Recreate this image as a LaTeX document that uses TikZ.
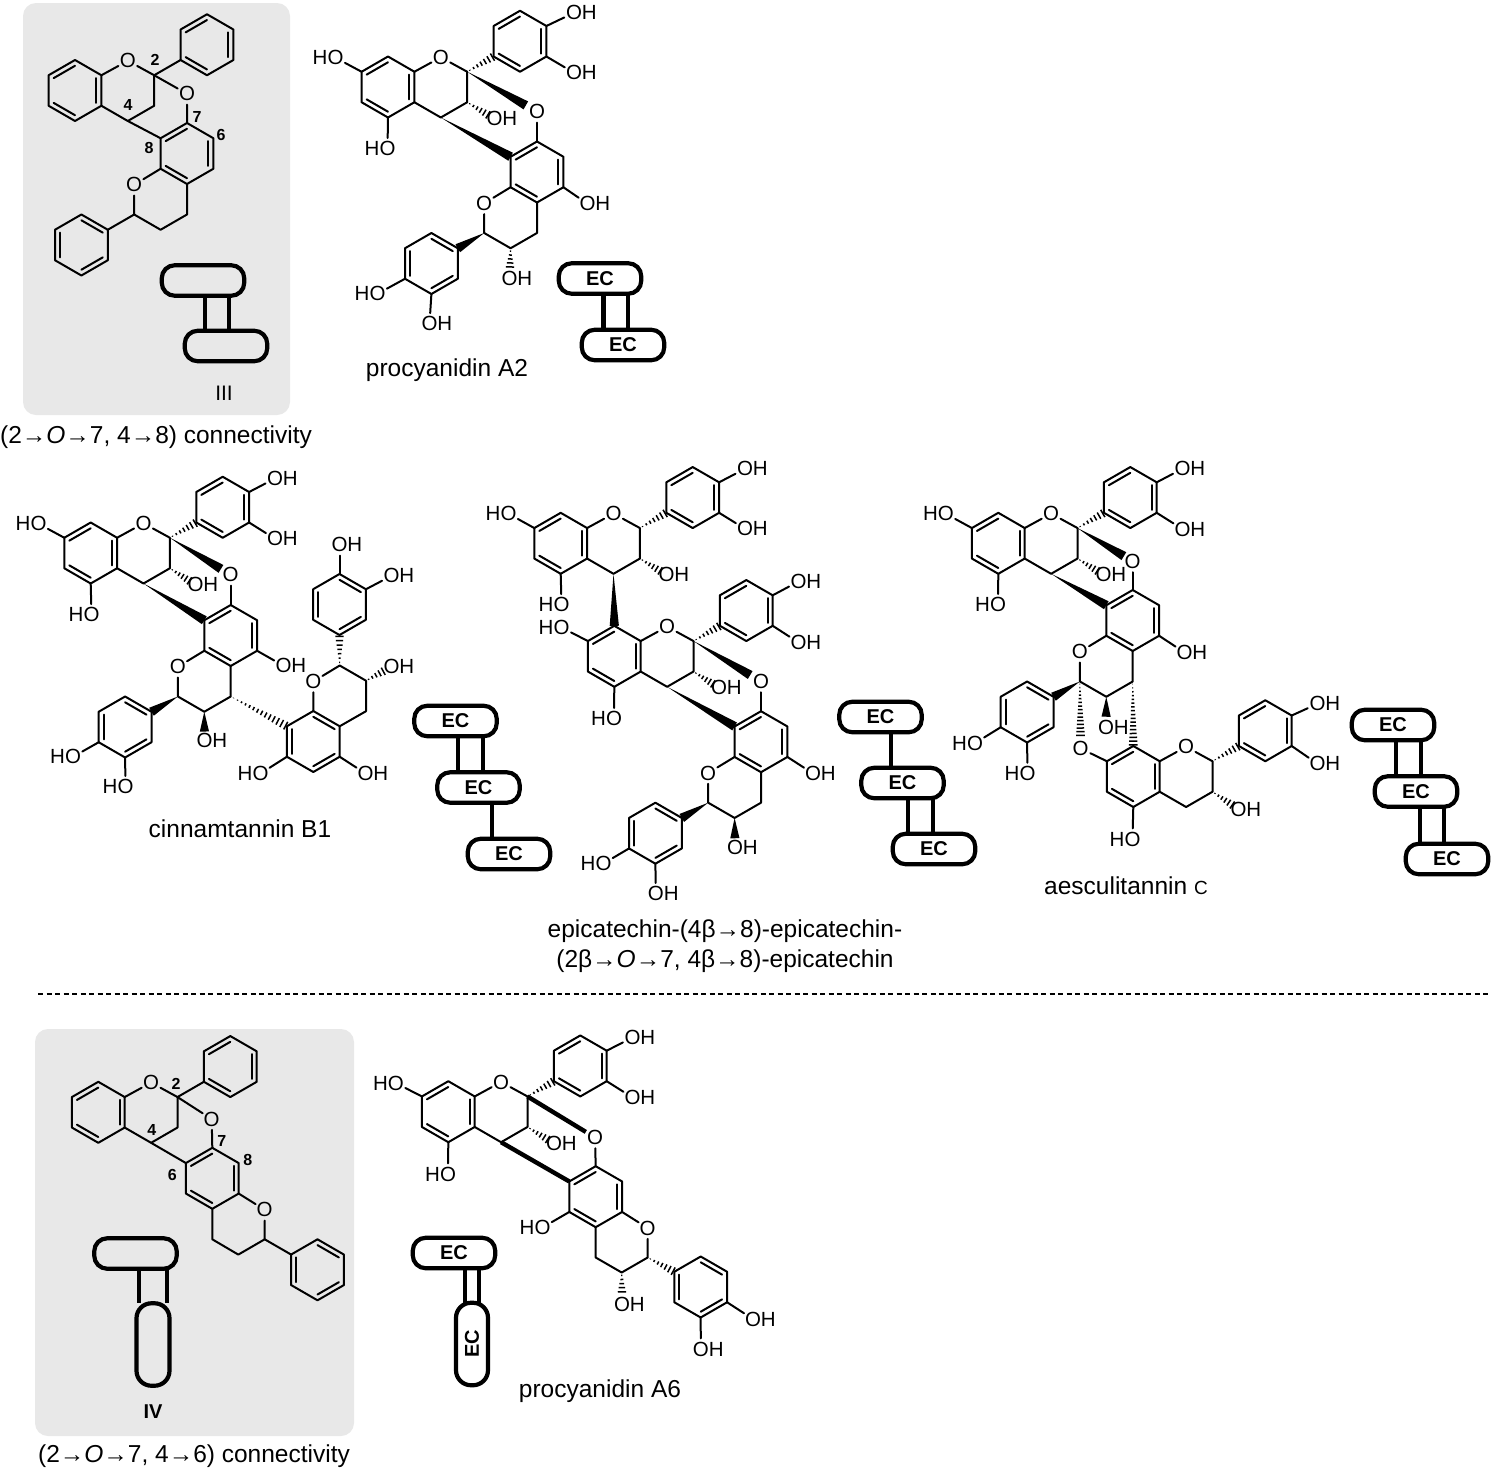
\documentclass[tikz,border=0pt]{standalone}
\usepackage{fontspec}
\setmainfont{Liberation Sans}
\usetikzlibrary{calc}
\definecolor{boxgray}{gray}{.91}
\newcommand{\OHr}{O\rlap{H}}
\newcommand{\HOl}{\llap{H}O}
\newcommand{\hexa}[4]{%
	\coordinate (#1m) at (#2,#3);
	\coordinate (#1a) at (#2,#3-30.5);
	\coordinate (#1b) at (#2+26.4,#3-15.25);
	\coordinate (#1c) at (#2+26.4,#3+15.25);
	\coordinate (#1d) at (#2,#3+30.5);
	\coordinate (#1e) at (#2-26.4,#3+15.25);
	\coordinate (#1f) at (#2-26.4,#3-15.25);
	\draw (#1a) -- (#1b) -- (#1c) -- (#1d) -- (#1e) -- (#1f) -- cycle;
	\foreach \p/\q in {#4} {\draw ($(#1\p)!.19!(#1m)$) -- ($(#1\q)!.19!(#1m)$);}
}
\newcommand{\flavan}[3]{%
	\hexa{#1A}{#2}{#3}{f/a,b/c,d/e}
	\hexa{#1B}{#2+132}{#3-45.75}{f/a,b/c,d/e}
	\node [atom] (#1O) at (#2+52.8,#3-30.5) {O};
	\coordinate (#1C2) at (#2+79.2,#3-15.25);
	\coordinate (#1C3) at (#2+79.2,#3+15.25);
	\coordinate (#1C4) at (#2+52.8,#3+30.5);
	\draw (#1Ab) -- (#1O) -- (#1C2) -- (#1C3) -- (#1C4) -- (#1Ac);
}
\newcommand{\flavanlow}[3]{%
	\hexa{#1D}{#2}{#3}{f/a,b/c,d/e}
	\hexa{#1B}{#2-105.6}{#3+91.5}{a/b,c/d,e/f}
	\node [atom] (#1O) at (#2-52.8,#3+30.5) {O};
	\coordinate (#1C2) at (#2-52.8,#3+61);
	\coordinate (#1C3) at (#2-26.4,#3+76.25);
	\coordinate (#1C4) at (#2,#3+61);
	\draw (#1De) -- (#1O) -- (#1C2) -- (#1C3) -- (#1C4) -- (#1Dd);
}
\newcommand{\wbond}[3]{%
	\coordinate (wtip) at ($(#2)!#1!(#3)$);
	\fill (#2) -- ($(wtip)!4.6pt!90:(#2)$) -- ($(wtip)!4.6pt!-90:(#2)$) -- cycle;
}
\newcommand{\hbond}[4]{%
	\coordinate (htip) at ($(#3)!#2!(#4)$);
	\foreach \i in {1,...,#1} {
		\pgfmathsetmacro\hfrac{(\i-.3)/#1}
		\pgfmathsetmacro\hwid{\hfrac*4.4}
		\draw [hash] ($(#3)!\hfrac!(htip)!\hwid pt!90:(htip)$) -- ($(#3)!\hfrac!(htip)!\hwid pt!-90:(htip)$);
	}
}
\newcommand{\plink}[3]{\draw [plk] ([xshift=#1pt]#2.south) -- ([xshift=#1pt]#2.south |- #3);}
\begin{document}
\begin{tikzpicture}[x=1pt,y=-1pt,line width=2pt,line cap=round,line join=round]
	\tikzstyle{every node}+=[inner sep=0pt,outer sep=0pt]
	\tikzstyle{atom}=[circle,yshift=-.8pt,font=\fontsize{20.5}{24}\selectfont]
	\tikzstyle{num}=[font=\bfseries\fontsize{16}{18}\selectfont]
	\tikzstyle{capt}=[yshift=-1.5pt,font=\fontsize{24.5}{29}\selectfont]
	\tikzstyle{pill}=[draw,fill=white,line width=4.2pt,rounded corners=13pt,minimum width=82.5pt,minimum height=30.5pt,font=\bfseries\fontsize{20}{24}\selectfont]
	\tikzstyle{pillg}=[pill,fill=boxgray]
	\tikzstyle{plk}=[line width=4.2pt,line cap=butt]
	\tikzstyle{hash}=[line width=1.5pt,line cap=butt]
	\tikzstyle{boldb}=[line width=4.4pt,line cap=butt]
	\useasboundingbox (0,0) rectangle (1492,1475);
	\fill [white] (0,0) rectangle (1492,1475);
	\fill [boxgray,rounded corners=13pt] (23,3) rectangle (290,415);
	\fill [boxgray,rounded corners=13pt] (35,1029) rectangle (354,1436);
	\flavan{ta}{75}{90.5}
	\flavanlow{tb}{187}{153.5}
	\node [atom] (taO7) at (187,93) {O};
	\draw (taC2) -- (taBe);
	\draw (taC2) -- (taO7) -- (tbDa);
	\draw (taC4) -- (tbDf);
	\draw (tbC2) -- (tbBb);
	\node [num] (taN2) at (155,60) {2};
	\node [num] (taN4) at (128,105) {4};
	\node [num] (taN7) at (197,117) {7};
	\node [num] (taN6) at (221,135) {6};
	\node [num] (taN8) at (149,148) {8};
	\node [pillg] (taUp) at (203,280.5) {};
	\node [pillg] (taLow) at (226,346) {};
	\plink{2}{taUp}{taLow.north}
	\plink{26}{taUp}{taLow.north}
	\node [font=\fontsize{21}{24}\selectfont] (taName) at (224,393.5) {III};
	\node [capt] (taCap) at (156,436) {(2→\textit{O}→7, 4→8) connectivity};
	\flavan{pau}{388}{87}
	\flavanlow{pal}{537}{172}
	\node [atom] (pauHO) at (335.5,57) {\HOl};
	\node [atom] (pauOHa) at (574,12) {\OHr};
	\node [atom] (pauOHb) at (574,72) {\OHr};
	\node [atom] (pauHOb) at (387.5,148) {\HOl};
	\node [atom] (pauOHc) at (494.5,118) {\OHr};
	\node [atom] (pauO7) at (537,111) {O};
	\node [atom] (palOH) at (587.5,203) {\OHr};
	\node [atom] (palHO) at (377.5,293) {\HOl};
	\node [atom] (palOHa) at (429.5,323) {\OHr};
	\node [atom] (palOHb) at (509.5,278) {\OHr};
	\draw (pauAf) -- (pauHO);
	\draw (pauBb) -- (pauOHa);
	\draw (pauBc) -- (pauOHb);
	\draw (pauAd) -- (pauHOb);
	\draw (pauO7) -- (palDa);
	\draw (palDc) -- (palOH);
	\draw (palBe) -- (palHO);
	\draw (palBd) -- (palOHa);
	\hbond{7}{1}{pauC2}{pauBe}
	\hbond{6}{.8}{pauC3}{pauOHc}
	\hbond{5}{.65}{palC3}{palOHb}
	\wbond{.84}{pauC2}{pauO7}
	\wbond{1}{pauC4}{palDf}
	\wbond{1}{palC2}{palBb}
	\node [pill] (paUp) at (600,278.5) {EC};
	\node [pill] (paLow) at (623,345) {EC};
	\plink{3.5}{paUp}{paLow.north}
	\plink{28}{paUp}{paLow.north}
	\node [capt] (paCap) at (447,369) {procyanidin A2};
	\flavan{cta}{90.7}{553}
	\flavanlow{ctb}{230.7}{635.5}
	\node [atom] (ctaHO) at (38.5,523) {\HOl};
	\node [atom] (ctaOHa) at (275,477.7) {\OHr};
	\node [atom] (ctaOHb) at (275,538) {\OHr};
	\node [atom] (ctaHOb) at (91.5,614) {\HOl};
	\node [atom] (ctaOHc) at (195.5,584) {\OHr};
	\node [atom] (ctaO7) at (230.7,574) {O};
	\node [atom] (ctbOH) at (283.5,665) {\OHr};
	\node [atom] (ctbHO) at (73,756) {\HOl};
	\node [atom] (ctbHOb) at (125.5,786) {\HOl};
	\node [atom] (ctbOHa) at (204.5,740) {\OHr};
	\draw (ctaAf) -- (ctaHO);
	\draw (ctaBb) -- (ctaOHa);
	\draw (ctaBc) -- (ctaOHb);
	\draw (ctaAd) -- (ctaHOb);
	\draw (ctaO7) -- (ctbDa);
	\draw (ctbDc) -- (ctbOH);
	\draw (ctbBe) -- (ctbHO);
	\draw (ctbBd) -- (ctbHOb);
	\hbond{7}{1}{ctaC2}{ctaBe}
	\hbond{6}{.8}{ctaC3}{ctaOHc}
	\wbond{.84}{ctaC2}{ctaO7}
	\wbond{1}{ctaC4}{ctbDf}
	\wbond{1}{ctbC2}{ctbBb}
	\wbond{.68}{ctbC3}{ctbOHa}
	\hexa{ctcA}{313.3}{741.5}{a/b,c/d,e/f}
	\hexa{ctcB}{339.5}{604.5}{a/b,c/d,e/f}
	\node [atom] (ctcO) at (313.3,680.7) {O};
	\coordinate (ctcC2) at (339.7,665.5);
	\coordinate (ctcC3) at (366,680.7);
	\coordinate (ctcC4) at (366,711.2);
	\draw (ctcAa) -- (ctcO) -- (ctcC2) -- (ctcC3) -- (ctcC4) -- (ctcAb);
	\node [atom] (ctcOH) at (391.5,666) {\OHr};
	\node [atom] (ctcOHa) at (339.5,544) {\OHr};
	\node [atom] (ctcOHb) at (391.5,575) {\OHr};
	\node [atom] (ctcHO) at (260.5,772.7) {\HOl};
	\node [atom] (ctcOHc) at (365.5,772.7) {\OHr};
	\draw (ctcBa) -- (ctcOHa);
	\draw (ctcBb) -- (ctcOHb);
	\draw (ctcAe) -- (ctcHO);
	\draw (ctcAc) -- (ctcOHc);
	\hbond{7}{1}{ctcC2}{ctcBd}
	\hbond{5}{.72}{ctcC3}{ctcOH}
	\hbond{14}{1}{ctbC4}{ctcAf}
	\node [pill] (ctUp) at (455.5,721) {EC};
	\node [pill] (ctMid) at (478.5,787.5) {EC};
	\node [pill] (ctLow) at (509,854) {EC};
	\plink{2.5}{ctUp}{ctMid.north}
	\plink{27.5}{ctUp}{ctMid.north}
	\plink{13.5}{ctMid}{ctLow.north}
	\node [capt] (ctCap) at (240,827) {cinnamtannin B1};
	\flavan{eea}{560.7}{543.3}
	\flavan{eeb}{614.3}{656.3}
	\flavanlow{eec}{761}{741.7}
	\node [atom] (eeaHO) at (508.5,513) {\HOl};
	\node [atom] (eeaOHa) at (745,468) {\OHr};
	\node [atom] (eeaOHb) at (745,528) {\OHr};
	\node [atom] (eeaHOb) at (561.5,604) {\HOl};
	\node [atom] (eeaOHc) at (666.5,574) {\OHr};
	\node [atom] (eebHO) at (561.5,626.7) {\HOl};
	\node [atom] (eebOHa) at (798.5,580.7) {\OHr};
	\node [atom] (eebOHb) at (798.5,641.7) {\OHr};
	\node [atom] (eebHOb) at (614,718) {\HOl};
	\node [atom] (eebOHc) at (719,687) {\OHr};
	\node [atom] (eebO7) at (761,680.7) {O};
	\node [atom] (eecOH) at (813,772.7) {\OHr};
	\node [atom] (eecOHa) at (735,847) {\OHr};
	\node [atom] (eecHO) at (603.5,862.7) {\HOl};
	\node [atom] (eecOHb) at (655.8,893) {\OHr};
	\draw (eeaAf) -- (eeaHO);
	\draw (eeaBb) -- (eeaOHa);
	\draw (eeaBc) -- (eeaOHb);
	\draw (eeaAd) -- (eeaHOb);
	\draw (eebAf) -- (eebHO);
	\draw (eebBb) -- (eebOHa);
	\draw (eebBc) -- (eebOHb);
	\draw (eebAd) -- (eebHOb);
	\draw (eebO7) -- (eecDa);
	\draw (eecDc) -- (eecOH);
	\draw (eecBe) -- (eecHO);
	\draw (eecBd) -- (eecOHb);
	\hbond{7}{1}{eeaC2}{eeaBe}
	\hbond{6}{.8}{eeaC3}{eeaOHc}
	\hbond{7}{1}{eebC2}{eebBe}
	\hbond{6}{.8}{eebC3}{eebOHc}
	\wbond{1}{eeaC4}{eebAa}
	\wbond{.84}{eebC2}{eebO7}
	\wbond{1}{eebC4}{eecDf}
	\wbond{1}{eecC2}{eecBb}
	\wbond{.68}{eecC3}{eecOHa}
	\node [pill] (eeUp) at (880.5,717) {EC};
	\node [pill] (eeMid) at (902.5,783) {EC};
	\node [pill] (eeLow) at (934,849) {EC};
	\plink{10.5}{eeUp}{eeMid.north}
	\plink{5.5}{eeMid}{eeLow.north}
	\plink{30.5}{eeMid}{eeLow.north}
	\node [capt] (eeCapa) at (725,930) {epicatechin-(4β→8)-epicatechin-};
	\node [capt] (eeCapb) at (725,960) {(2β→\textit{O}→7, 4β→8)-epicatechin};
	\flavan{aea}{998.3}{543.3}
	\flavanlow{aeb}{1132.7}{620.5}
	\flavan{aec}{1133.3}{776.5}
	\node [atom] (aeaHO) at (945.8,513) {\HOl};
	\node [atom] (aeaOHa) at (1182.5,468) {\OHr};
	\node [atom] (aeaOHb) at (1182.5,528.3) {\OHr};
	\node [atom] (aeaHOb) at (998,604) {\HOl};
	\node [atom] (aeaOHc) at (1103.5,574) {\OHr};
	\node [atom] (aeaO7) at (1132.7,560.7) {O};
	\node [atom] (aebOH) at (1184.5,651.7) {\OHr};
	\node [atom] (aebHO) at (975,742.3) {\HOl};
	\node [atom] (aebHOb) at (1027.5,772.7) {\HOl};
	\node [atom] (aebOHa) at (1106,726.7) {\OHr};
	\node [atom] (aecO7) at (1080.7,747.7) {O};
	\node [atom] (aecOH) at (1238.5,808.3) {\OHr};
	\node [atom] (aecHO) at (1132.5,838.3) {\HOl};
	\node [atom] (aecOHa) at (1317.5,703) {\OHr};
	\node [atom] (aecOHb) at (1317.5,763) {\OHr};
	\draw (aeaAf) -- (aeaHO);
	\draw (aeaBb) -- (aeaOHa);
	\draw (aeaBc) -- (aeaOHb);
	\draw (aeaAd) -- (aeaHOb);
	\draw (aeaO7) -- (aebDa);
	\draw (aebDc) -- (aebOH);
	\draw (aebBe) -- (aebHO);
	\draw (aebBd) -- (aebHOb);
	\draw (aecO7) -- (aecAf);
	\draw (aecBb) -- (aecOHa);
	\draw (aecBc) -- (aecOHb);
	\draw (aecAd) -- (aecHO);
	\hbond{7}{1}{aeaC2}{aeaBe}
	\hbond{6}{.8}{aeaC3}{aeaOHc}
	\wbond{.84}{aeaC2}{aeaO7}
	\wbond{1}{aeaC4}{aebDf}
	\wbond{1}{aebC2}{aebBb}
	\wbond{.65}{aebC3}{aebOHa}
	\hbond{15}{.82}{aebC2}{aecO7}
	\hbond{17}{1}{aebC4}{aecAa}
	\hbond{7}{1}{aecC2}{aecBe}
	\hbond{6}{.8}{aecC3}{aecOH}
	\node [pill] (aeUp) at (1393,725) {EC};
	\node [pill] (aeMid) at (1416,791.5) {EC};
	\node [pill] (aeLow) at (1447,859) {EC};
	\plink{3}{aeUp}{aeMid.north}
	\plink{28}{aeUp}{aeMid.north}
	\plink{4}{aeMid}{aeLow.north}
	\plink{28}{aeMid}{aeLow.north}
	\node [capt] (aeCap) at (1126,884) {aesculitannin {\fontsize{19}{24}\selectfont C}};
	\coordinate (dashl) at (38,994);
	\coordinate (dashr) at (1490,994);
	\draw [line width=1.5pt,line cap=butt,dash pattern=on 5pt off 3.5pt] (dashl) -- (dashr);
	\flavan{fa}{98.3}{1112.3}
	\hexa{fbD}{212.3}{1178.3}{f/a,b/c,d/e}
	\hexa{fbB}{317.5}{1269.8}{a/b,c/d,e/f}
	\node [atom] (faO7) at (211.7,1118.3) {O};
	\node [atom] (fbO) at (264.7,1209) {O};
	\coordinate (fbC2) at (264.7,1239.3);
	\coordinate (fbC3) at (238.3,1254.6);
	\coordinate (fbC4) at (212.3,1239.3);
	\draw (fbDc) -- (fbO) -- (fbC2) -- (fbC3) -- (fbC4) -- (fbDd);
	\draw (faC2) -- (faBe);
	\draw (faC2) -- (faO7) -- (fbDa);
	\draw (faC4) -- (fbDf);
	\draw (fbC2) -- (fbBf);
	\node [num] (faN2) at (176,1084.3) {2};
	\node [num] (faN4) at (151.7,1130) {4};
	\node [num] (faN7) at (221.7,1141) {7};
	\node [num] (faN8) at (247.7,1160) {8};
	\node [num] (faN6) at (172.3,1175) {6};
	\node [pillg] (faUp) at (135.5,1253.5) {};
	\node [pillg,rotate=90,minimum height=33pt,rounded corners=15pt] (faLow) at (153,1344.5) {};
	\plink{3.8}{faUp}{faLow.east}
	\plink{31.2}{faUp}{faLow.east}
	\node [font=\bfseries\fontsize{20}{24}\selectfont] (faName) at (153,1412) {IV};
	\node [capt] (faCap) at (194,1455) {(2→\textit{O}→7, 4→6) connectivity};
	\flavan{pfa}{448.3}{1111.7}
	\hexa{pfbD}{595.7}{1196.7}{f/a,b/c,d/e}
	\hexa{pfbB}{700.7}{1287}{a/b,c/d,e/f}
	\node [atom] (pfbO) at (647.7,1227.3) {O};
	\coordinate (pfbC2) at (647.7,1257.5);
	\coordinate (pfbC3) at (621.7,1272.5);
	\coordinate (pfbC4) at (595.7,1257.5);
	\draw (pfbDc) -- (pfbO) -- (pfbC2) -- (pfbC3) -- (pfbC4) -- (pfbDd);
	\node [atom] (pfaHO) at (395.8,1082.3) {\HOl};
	\node [atom] (pfaOHa) at (632.5,1036.7) {\OHr};
	\node [atom] (pfaOHb) at (632.5,1096.7) {\OHr};
	\node [atom] (pfaHOb) at (448,1173.3) {\HOl};
	\node [atom] (pfaOHc) at (554,1142.7) {\OHr};
	\node [atom] (pfaO7) at (595,1136.7) {O};
	\node [atom] (pfbHO) at (542.5,1226.7) {\HOl};
	\node [atom] (pfbOHa) at (622,1303.3) {\OHr};
	\node [atom] (pfbOHb) at (753,1318.3) {\OHr};
	\node [atom] (pfbOHc) at (700.8,1348.3) {\OHr};
	\draw (pfaAf) -- (pfaHO);
	\draw (pfaBb) -- (pfaOHa);
	\draw (pfaBc) -- (pfaOHb);
	\draw (pfaAd) -- (pfaHOb);
	\draw (pfaO7) -- (pfbDa);
	\draw (pfbDe) -- (pfbHO);
	\draw (pfbBc) -- (pfbOHb);
	\draw (pfbBd) -- (pfbOHc);
	\draw [boldb] (pfaC2) -- (pfaO7);
	\draw [boldb] (pfaC4) -- (pfbDf);
	\hbond{7}{1}{pfaC2}{pfaBe}
	\hbond{6}{.8}{pfaC3}{pfaOHc}
	\hbond{7}{1}{pfbC2}{pfbBf}
	\hbond{5}{.65}{pfbC3}{pfbOHa}
	\node [pill] (pfUp) at (454,1253) {EC};
	\node [pill,rotate=90,minimum height=32pt,rounded corners=15pt] (pfLow) at (472,1344) {EC};
	\plink{11}{pfUp}{pfLow.east}
	\plink{25}{pfUp}{pfLow.east}
	\node [capt] (pfCap) at (600,1390) {procyanidin A6};
\end{tikzpicture}
\end{document}
